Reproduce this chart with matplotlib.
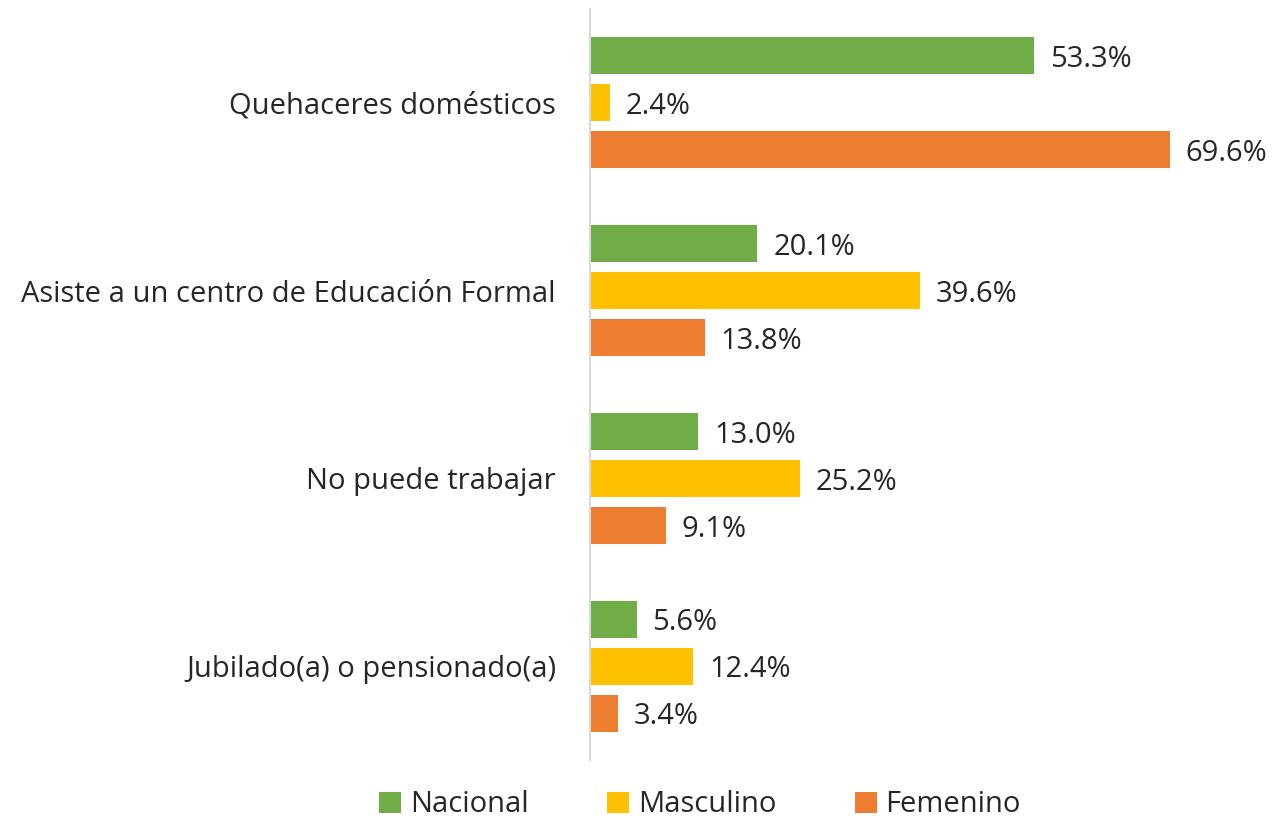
import numpy as np
import matplotlib.pyplot as plt

plt.rcParams['font.family'] = ['Open Sans', 'DejaVu Sans']

categorias = ['Quehaceres domésticos', 'Asiste a un centro de Educación Formal',
              'No puede trabajar', 'Jubilado(a) o pensionado(a)']
nacional = [53.3, 20.1, 13.0, 5.6]
masculino = [2.4, 39.6, 25.2, 12.4]
femenino = [69.6, 13.8, 9.1, 3.4]
series = ['Nacional', 'Masculino', 'Femenino']
colores = ['#70AD47', '#FFC000', '#ED7D31']

fig = plt.figure(figsize=(12.74, 8.18), dpi=100)
ax = fig.add_axes([590 / 1274, 1 - 760 / 818, 1 - 590 / 1274, 751 / 818])

y = np.arange(len(categorias))
h = 0.197
pitch = 0.25
texto = '#262626'
fs = 21
for i, (vals, nombre, c) in enumerate(zip([nacional, masculino, femenino], series, colores)):
    pos = y + (i - 1) * pitch
    ax.barh(pos, vals, height=h, color=c, label=nombre)
    for p, v in zip(pos, vals):
        ax.text(v + 1.9, p + 0.02, f'{v:.1f}%', va='center', ha='left', fontsize=fs, color=texto)

ax.set_xlim(0, 684 / 8.33)
ax.set_ylim(3.5, -0.5)
ax.set_yticks(y)
ax.set_yticklabels(categorias, fontsize=fs, color=texto)
ax.tick_params(axis='y', length=0, pad=24.5)
ax.set_xticks([])
for s in ['top', 'right', 'bottom']:
    ax.spines[s].set_visible(False)
ax.spines['left'].set_color('#d9d9d9')
ax.spines['left'].set_linewidth(1.5)

fig.legend(loc='center', bbox_to_anchor=(700 / 1274, 1 - 805 / 818), ncol=3, frameon=False,
           fontsize=fs, handlelength=0.75, handleheight=0.75, handletextpad=0.3,
           columnspacing=2.7, labelcolor=texto)

fig.savefig('out.png', dpi=100)
